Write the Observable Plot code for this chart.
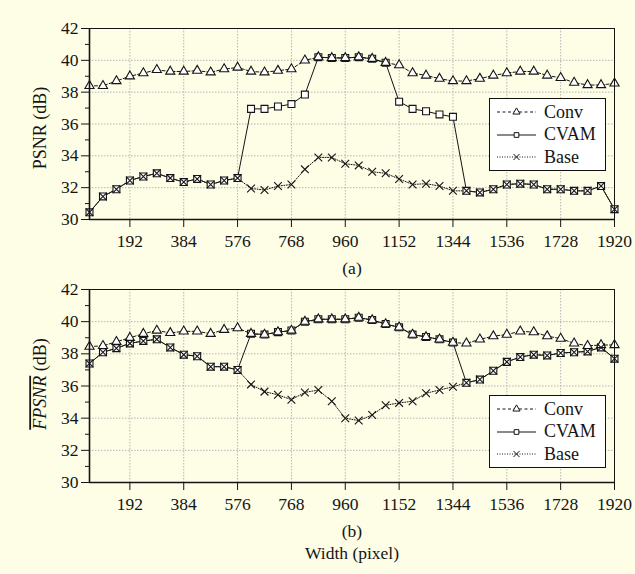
<!DOCTYPE html>
<html>
<head>
<meta charset="utf-8">
<script src="https://cdn.jsdelivr.net/npm/d3@7"></script>
<script src="https://cdn.jsdelivr.net/npm/@observablehq/plot@0.6"></script>
<style>
  html, body { margin: 0; padding: 0; background: #fefde6; }
  #wrap { position: relative; width: 635px; height: 574px; overflow: hidden; background: #fefde6; font-family: "Liberation Serif", serif; }
  .panel { position: absolute; left: 0; width: 635px; }
  .legend { position: absolute; left: 489px; width: 115px; height: 71px; background: white; border: 1px solid #111; }
  .legend .row { position: absolute; left: 0; height: 22px; display: flex; align-items: center; }
  .legend .row span { font-size: 18px; color: #141414; margin-left: 4px; }
</style>
</head>
<body>
<div id="wrap"></div>
<script>
// ---- data ----
const widths = [48,96,144,192,240,288,336,384,432,480,528,576,624,672,720,768,816,864,912,960,1008,1056,1104,1152,1200,1248,1296,1344,1392,1440,1488,1536,1584,1632,1680,1728,1776,1824,1872,1920];
const xTicks = [192,384,576,768,960,1152,1344,1536,1728,1920];
const yTicks = [30,32,34,36,38,40,42];
const yMinor = [31,33,35,37,39,41];
const seriesNames = ["Conv","CVAM","Base"];

// panel (a): PSNR (dB)
const convA = [38.4,38.4,38.7,39.0,39.2,39.4,39.3,39.3,39.35,39.25,39.45,39.55,39.3,39.25,39.35,39.45,40.0,40.2,40.15,40.15,40.2,40.1,39.85,39.7,39.2,39.05,38.85,38.7,38.7,38.85,39.05,39.2,39.3,39.3,39.05,38.9,38.6,38.45,38.45,38.55];
const cvamA = [30.45,31.45,31.9,32.45,32.7,32.9,32.6,32.35,32.55,32.2,32.45,32.6,36.95,36.95,37.1,37.25,37.85,40.2,40.15,40.15,40.2,40.1,39.85,37.4,36.95,36.8,36.6,36.45,31.8,31.7,31.9,32.2,32.25,32.2,31.9,31.9,31.8,31.8,32.1,30.65];
const baseA = [30.45,31.45,31.9,32.45,32.7,32.9,32.6,32.35,32.55,32.2,32.45,32.6,31.95,31.85,32.1,32.2,33.15,33.9,33.9,33.5,33.4,33.0,32.9,32.55,32.2,32.25,32.1,31.8,31.8,31.7,31.9,32.2,32.25,32.2,31.9,31.9,31.8,31.8,32.1,30.65];

// panel (b): mean FPSNR (dB)
const convB = [38.45,38.5,38.75,39.0,39.25,39.45,39.3,39.4,39.4,39.25,39.5,39.6,39.25,39.2,39.35,39.45,40.0,40.15,40.15,40.15,40.25,40.1,39.85,39.65,39.2,39.05,38.9,38.7,38.65,38.9,39.1,39.2,39.4,39.35,39.1,38.95,38.65,38.5,38.55,38.55];
const cvamB = [37.4,38.1,38.35,38.65,38.8,38.9,38.4,37.95,37.85,37.2,37.2,37.0,39.25,39.2,39.35,39.45,40.0,40.15,40.15,40.15,40.25,40.1,39.85,39.65,39.2,39.05,38.9,38.7,36.2,36.4,36.95,37.5,37.8,37.95,37.9,38.05,38.1,38.15,38.4,37.7];
const baseB = [37.4,38.1,38.35,38.65,38.8,38.9,38.4,37.95,37.85,37.2,37.2,37.0,36.1,35.65,35.45,35.15,35.6,35.75,35.05,34.0,33.85,34.2,34.8,34.95,35.05,35.55,35.75,35.95,36.2,36.4,36.95,37.5,37.8,37.95,37.9,38.05,38.1,38.15,38.4,37.7];

const INK = "#141414";
const FONT = "Liberation Serif, Times New Roman, serif";

function rows(arr) { return widths.map((w, i) => ({w, v: arr[i]})); }

function panel({conv, cvam, base, ylabel, sub, xlabel, height, marginTop, marginBottom, labelDy}) {
  const C = rows(conv), V = rows(cvam), B = rows(base);
  const marks = [
    Plot.gridX(xTicks, {stroke: "#b5b5b5", strokeOpacity: 1, strokeDasharray: "1.5,1.5"}),
    Plot.gridY(yTicks, {stroke: "#b5b5b5", strokeOpacity: 1, strokeDasharray: "1.5,1.5"}),
    Plot.line(V, {x: "w", y: "v", stroke: INK, strokeWidth: 1}),
    Plot.line(C, {x: "w", y: "v", stroke: INK, strokeWidth: 1, strokeDasharray: "3,2"}),
    Plot.line(B, {x: "w", y: "v", stroke: INK, strokeWidth: 1, strokeDasharray: "1,1.5"}),
    Plot.dot(V, {x: "w", y: "v", symbol: "square", r: 3.9, fill: "white", stroke: INK, strokeWidth: 1.1}),
    Plot.dot(C, {x: "w", y: "v", symbol: "triangle", r: 3.4, fill: "white", stroke: INK, strokeWidth: 1.1}),
    Plot.dot(B, {x: "w", y: "v", symbol: "times", r: 3.6, fill: "none", stroke: INK, strokeWidth: 1.1}),
    Plot.frame({stroke: INK, strokeWidth: 1}),
    Plot.ruleX([48], {stroke: INK, strokeWidth: 1.6}),
    Plot.ruleY([30], {stroke: INK, strokeWidth: 1.6}),
    Plot.axisY(yTicks, {tickSize: 8, tickPadding: 3, label: null, stroke: INK, fill: INK, fontSize: 17.5}),
    Plot.axisY(yMinor, {tickSize: 4, tickFormat: () => "", label: null, stroke: INK}),
    Plot.axisX(xTicks, {tickSize: 8, tickPadding: 7, label: null, stroke: INK, fill: INK, fontSize: 17.5, tickFormat: d => String(d)}),
    Plot.text([sub], {frameAnchor: "bottom", dy: 49, lineAnchor: "middle", textAnchor: "middle", fill: INK, fontSize: 17.5}),
    Plot.text([ylabel], {frameAnchor: "left", rotate: -90, dx: -49, dy: labelDy, textAnchor: "middle", lineAnchor: "middle", fill: INK, fontSize: 18})
  ];
  if (xlabel) marks.push(Plot.text([xlabel], {frameAnchor: "bottom", dy: 71, lineAnchor: "middle", textAnchor: "middle", fill: INK, fontSize: 17.5}));
  return Plot.plot({
    width: 635,
    height,
    marginLeft: 89,
    marginRight: 21,
    marginTop,
    marginBottom,
    x: {domain: [48, 1920]},
    y: {domain: [30, 42]},
    style: {background: "transparent", fontFamily: FONT, fontSize: "17.5px", color: INK, overflow: "visible"},
    marks
  });
}

const wrap = document.getElementById("wrap");

const a = panel({conv: convA, cvam: cvamA, base: baseA, ylabel: "PSNR (dB)", sub: "(a)", height: 285, marginTop: 28, marginBottom: 66, labelDy: 4});
const da = document.createElement("div"); da.className = "panel"; da.style.top = "0px"; da.appendChild(a); wrap.appendChild(da);

const b = panel({conv: convB, cvam: cvamB, base: baseB, ylabel: "FPSNR (dB)", sub: "(b)", xlabel: "Width (pixel)", height: 304, marginTop: 19, marginBottom: 92, labelDy: -2});
const db = document.createElement("div"); db.className = "panel"; db.style.top = "270px"; db.appendChild(b); wrap.appendChild(db);

// italic overlined FPSNR
d3.select(b).selectAll("text").filter(function() { return this.textContent === "FPSNR (dB)"; }).each(function() {
  const t = d3.select(this);
  t.text(null);
  t.append("tspan").text("FPSNR").style("font-style", "italic").style("text-decoration", "overline");
  t.append("tspan").text(" (dB)");
});

// legends
const styles = {
  Conv: {dash: "3,2.5", sym: d3.symbolTriangle, size: 22},
  CVAM: {dash: null, sym: d3.symbolSquare, size: 22},
  Base: {dash: "1,1.5", sym: d3.symbolTimes, size: 26}
};
function legend(top) {
  const L = document.createElement("div");
  L.className = "legend";
  L.style.top = top + "px";
  seriesNames.forEach((name, i) => {
    const r = document.createElement("div");
    r.className = "row";
    r.style.top = (2 + i * 22.5) + "px";
    const s = d3.create("svg").attr("width", 50).attr("height", 22);
    const st = styles[name];
    s.append("line").attr("x1", 7).attr("x2", 46).attr("y1", 11).attr("y2", 11)
      .attr("stroke", INK).attr("stroke-width", 1).attr("stroke-dasharray", st.dash);
    s.append("path").attr("transform", "translate(26.5,11)")
      .attr("d", d3.symbol(st.sym, st.size)())
      .attr("fill", name === "Base" ? "none" : "white").attr("stroke", INK).attr("stroke-width", 1);
    r.appendChild(s.node());
    const sp = document.createElement("span");
    sp.textContent = name;
    r.appendChild(sp);
    L.appendChild(r);
  });
  wrap.appendChild(L);
}
legend(98);
legend(395);
</script>
</body>
</html>
